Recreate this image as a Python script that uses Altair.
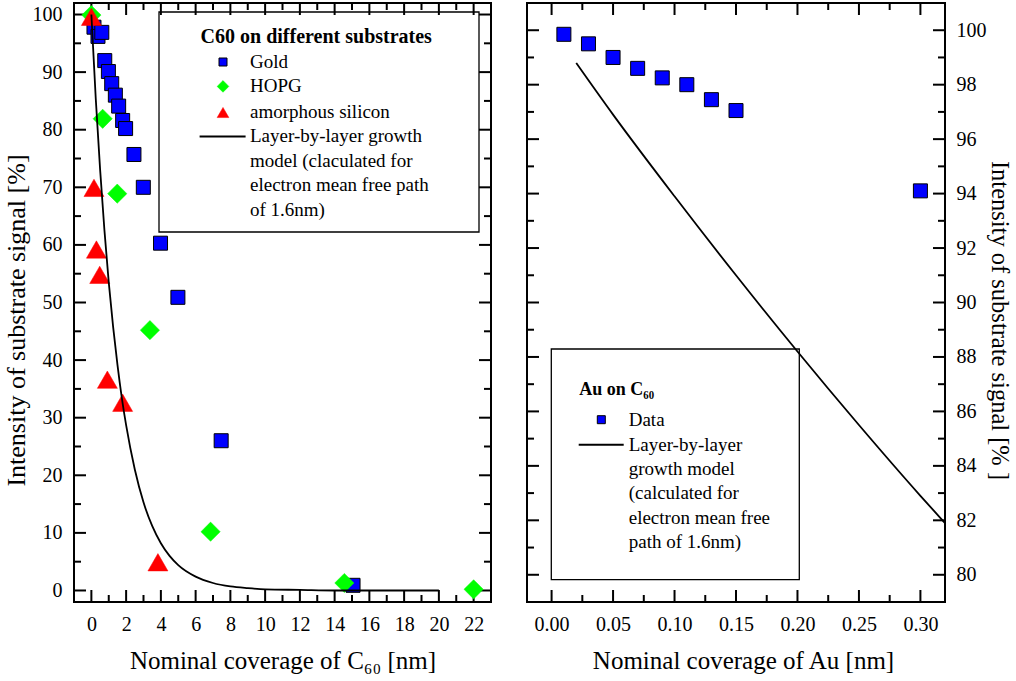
import altair as alt
import pandas as pd

# ---------------- data ----------------
gold_x = [0.15, 0.38, 0.6, 0.77, 0.98, 1.17, 1.38, 1.57, 1.8, 1.97, 2.45, 2.99, 3.98, 4.98, 7.47, 15.06]
gold_y = [97.8, 96.2, 96.9, 92.0, 90.1, 88.0, 86.0, 84.1, 81.6, 80.2, 75.7, 70.0, 60.3, 50.9, 26.0, 0.9]
hopg_x = [0.0, 0.65, 1.49, 3.37, 6.86, 14.56, 22.0]
hopg_y = [99.9, 81.9, 68.9, 45.2, 10.2, 1.3, 0.2]
si_x = [0.0, 0.15, 0.29, 0.48, 0.92, 1.8, 3.83]
si_y = [99.6, 69.9, 59.2, 54.8, 36.6, 32.6, 4.9]
model_x = [0, 0.25, 0.5, 0.75, 1, 1.25, 1.5, 1.75, 2, 2.5, 3, 3.5, 4, 4.5, 5, 6, 7, 8, 9, 10, 12, 14, 16, 18, 20]
model_y = [100, 85.5, 73.2, 62.6, 53.5, 45.8, 39.2, 33.5, 28.7, 21.0, 15.3, 11.2, 8.2, 6.0, 4.4, 2.4, 1.3, 0.7, 0.4, 0.2, 0.1, 0.0, 0.0, 0.0, 0.0]

au_x = [0.01, 0.03, 0.05, 0.07, 0.09, 0.11, 0.13, 0.15, 0.30]
au_y = [99.85, 99.5, 99.0, 98.6, 98.25, 98.0, 97.45, 97.05, 94.1]
au_model_x = [0.02, 0.05, 0.10, 0.15, 0.20, 0.25, 0.30, 0.32]
au_model_y = [98.8, 96.9, 93.9, 91.0, 88.2, 85.5, 82.9, 81.9]

left_x_major = [0, 2, 4, 6, 8, 10, 12, 14, 16, 18, 20, 22]
left_x_minor = [1, 3, 5, 7, 9, 11, 13, 15, 17, 19, 21]
left_y_major = [0, 10, 20, 30, 40, 50, 60, 70, 80, 90, 100]
left_y_minor = [5, 15, 25, 35, 45, 55, 65, 75, 85, 95]
right_x_major = [0.0, 0.05, 0.10, 0.15, 0.20, 0.25, 0.30]
right_x_minor = [0.025, 0.075, 0.125, 0.175, 0.225, 0.275]
right_y_major = [80, 82, 84, 86, 88, 90, 92, 94, 96, 98, 100]
right_y_minor = [81, 83, 85, 87, 89, 91, 93, 95, 97, 99]

left_x_range, left_y_range = [-1, 23], [-2, 102]
right_x_range, right_y_range = [-0.02, 0.32], [79, 101]

BLUE, GREEN, RED = "#0000ff", "#00ff00", "#ff0000"
FONT = "Liberation Serif"
W1, W2, H = 417, 418, 599
MAJ_SIZE, MIN_SIZE = 576, 196   # symbol sizes -> inward tick lengths 12 px and 7 px

gold = pd.DataFrame({"x": gold_x, "y": gold_y})
hopg = pd.DataFrame({"x": hopg_x, "y": hopg_y})
si = pd.DataFrame({"x": si_x, "y": si_y})
c60_model = pd.DataFrame({"x": model_x, "y": model_y})
au = pd.DataFrame({"x": au_x, "y": au_y})
au_model = pd.DataFrame({"x": au_model_x, "y": au_model_y})
one = pd.DataFrame({"a": [0]})

UP, DOWN, RIGHT, LEFT = "M0,0L0,-1", "M0,0L0,1", "M0,0L1,0", "M0,0L-1,0"


class Panel:
    def __init__(self, xdom, ydom, xaxis, yaxis, W):
        self.xdom, self.ydom = xdom, ydom
        self.xs = alt.Scale(domain=xdom, nice=False, zero=False)
        self.ys = alt.Scale(domain=ydom, nice=False, zero=False)
        self.xa, self.ya, self.W = xaxis, yaxis, W

    def X(self, f):
        return alt.X(f, type="quantitative", scale=self.xs, axis=self.xa)

    def Y(self, f):
        return alt.Y(f, type="quantitative", scale=self.ys, axis=self.ya)

    def _tick(self, xs, ys, shape, size):
        df = pd.DataFrame({"x": xs, "y": ys})
        return alt.Chart(df).mark_point(shape=shape, size=size, filled=False, stroke="black",
                                         strokeWidth=2, strokeJoin="round", opacity=1).encode(
            x=self.X("x"), y=self.Y("y"))

    def ticks(self, xmaj, xmin, ymaj, ymin):
        layers = []
        for vals, sz in [(xmaj, MAJ_SIZE), (xmin, MIN_SIZE)]:
            layers.append(self._tick(vals, [self.ydom[0]] * len(vals), UP, sz))
            layers.append(self._tick(vals, [self.ydom[1]] * len(vals), DOWN, sz))
        for vals, sz in [(ymaj, MAJ_SIZE), (ymin, MIN_SIZE)]:
            layers.append(self._tick([self.xdom[0]] * len(vals), vals, RIGHT, sz))
            layers.append(self._tick([self.xdom[1]] * len(vals), vals, LEFT, sz))
        return layers

    def pts(self, df, shape, color, size, stroke=None):
        kw = dict(shape=shape, filled=True, fill=color, size=size, opacity=1)
        if stroke:
            kw.update(stroke=stroke, strokeWidth=1)
        else:
            kw.update(stroke=color, strokeWidth=0.5)
        return alt.Chart(df).mark_point(**kw).encode(x=self.X("x"), y=self.Y("y"))

    def line(self, df):
        return alt.Chart(df).mark_line(color="black", strokeWidth=1.8, interpolate="monotone").encode(
            x=self.X("x"), y=self.Y("y"))


def txt(x, y, t, size=19, bold=False, lh=None):
    kw = dict(align="left", baseline="middle", font=FONT, fontSize=size,
              color="black", fontWeight="bold" if bold else "normal")
    if lh is not None:
        kw["lineHeight"] = lh
    return alt.Chart(one).mark_text(**kw).encode(
        x=alt.value(x), y=alt.value(y), text=alt.value(t))


def sym(x, y, shape, color, size, stroke=None):
    kw = dict(shape=shape, filled=True, fill=color, size=size, opacity=1)
    if stroke:
        kw.update(stroke=stroke, strokeWidth=1)
    else:
        kw.update(stroke=color, strokeWidth=0.5)
    return alt.Chart(one).mark_point(**kw).encode(x=alt.value(x), y=alt.value(y))


def box(x1, x2, y1, y2):
    return alt.Chart(one).mark_rect(fill="white", stroke="black", strokeWidth=1.3).encode(
        x=alt.value(x1), x2=alt.value(x2), y=alt.value(y1), y2=alt.value(y2))


def hline(x1, x2, y):
    return alt.Chart(one).mark_rule(color="black", strokeWidth=2).encode(
        x=alt.value(x1), x2=alt.value(x2), y=alt.value(y))


# ---------------- left panel ----------------
LP = Panel(
    left_x_range, left_y_range,
    alt.Axis(orient="bottom", values=left_x_major, ticks=False, tickSize=0, labelPadding=12,
             domain=False, grid=False, title="Nominal coverage of C₆₀ [nm]", titlePadding=14),
    alt.Axis(orient="left", values=left_y_major, ticks=False, tickSize=0, labelPadding=12,
             domain=False, grid=False, title="Intensity of substrate signal [%]", titlePadding=3,
             titleFontSize=26, titleY=317),
    W1,
)

left_legend = [
    txt(126.6, 34.4, "C60 on different substrates", size=20, bold=True),
    sym(149, 59, "square", BLUE, 64, stroke="black"),
    txt(176, 59, "Gold"),
    sym(149, 83.4, "diamond", GREEN, 137),
    txt(176, 83.4, "HOPG"),
    sym(149, 109.5, "triangle-up", RED, 137),
    txt(176, 109, "amorphous silicon"),
    hline(125.6, 171.6, 133.4),
    txt(176, 133.4, ["Layer-by-layer growth", "model (claculated for",
                     "electron mean free path", "of 1.6nm)"], lh=24.4),
]

left = alt.layer(
    box(85, 405, 9, 229),
    *LP.ticks(left_x_major, left_x_minor, left_y_major, left_y_minor),
    LP.pts(gold, "square", BLUE, 196, stroke="black"),
    LP.pts(hopg, "diamond", GREEN, 370),
    LP.pts(si, "triangle-up", RED, 400),
    LP.line(c60_model),
    *left_legend,
).properties(width=W1, height=H)

# ---------------- right panel ----------------
RP = Panel(
    right_x_range, right_y_range,
    alt.Axis(orient="bottom", values=right_x_major, format=".2f", ticks=False, tickSize=0, labelPadding=12,
             domain=False, grid=False, title="Nominal coverage of Au [nm]", titlePadding=14, titleX=216),
    alt.Axis(orient="right", values=right_y_major, ticks=False, tickSize=0, labelPadding=11,
             domain=False, grid=False, title="Intensity of substrate signal [% ]", titlePadding=0,
             titleFontSize=24.5, titleY=317),
    W2,
)

right_legend = [
    txt(52.3, 386.7, "Au on C₆₀", size=18, bold=True),
    sym(74.3, 416.7, "square", BLUE, 64, stroke="black"),
    txt(101.7, 416.7, "Data"),
    hline(51.7, 96.7, 441.7),
    txt(101.7, 441.7, ["Layer-by-layer", "growth model", "(calculated for",
                       "electron mean free", "path of 1.6nm)"], lh=24.4),
]

right = alt.layer(
    box(24.3, 272.3, 346, 576.7),
    *RP.ticks(right_x_major, right_x_minor, right_y_major, right_y_minor),
    RP.pts(au, "square", BLUE, 196, stroke="black"),
    RP.line(au_model),
    *right_legend,
).properties(width=W2, height=H)

chart = alt.hconcat(left, right, spacing=32).properties(
    padding={"left": 2, "top": 1, "right": 0, "bottom": 0},
    background="white",
).configure_view(stroke="black", strokeWidth=2).configure_axis(
    labelFont=FONT, titleFont=FONT, labelFontSize=20, titleFontSize=25,
    labelColor="black", titleColor="black", titleFontWeight="normal",
)

chart.save("out.html", embed_options={"renderer": "svg", "actions": False})
